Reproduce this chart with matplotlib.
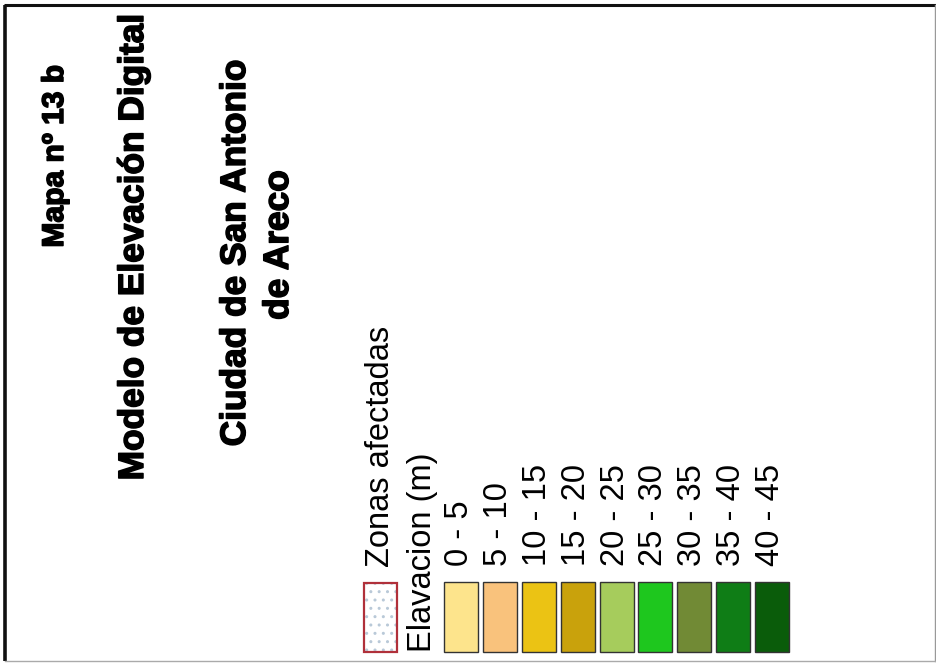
import matplotlib
matplotlib.use("Agg")
import matplotlib.pyplot as plt
import matplotlib.patheffects as pe
from matplotlib.patches import Rectangle

# legend data
elev_labels = ["0 - 5", "5 - 10", "10 - 15", "15 - 20", "20 - 25",
               "25 - 30", "30 - 35", "35 - 40", "40 - 45"]
elev_colors = ["#FDE48C", "#F9C27C", "#EBC314", "#C9A20C", "#A6CC5C",
               "#1EC71E", "#718A35", "#0F7D16", "#0A5C0A"]
zone_label = "Zonas afectadas"
elev_title = "Elavacion (m)"
title_lines = ["Mapa nº 13 b", "Modelo de Elevación Digital",
               "Ciudad de San Antonio", "de Areco"]

W, H = 937, 664
fig = plt.figure(figsize=(W / 100, H / 100), dpi=100)
ax = fig.add_axes([0, 0, 1, 1])
ax.set_xlim(0, W)
ax.set_ylim(H, 0)
ax.axis("off")

# frame
ax.plot([5.5, 5.5], [5, 661], color="#111111", lw=2.6, solid_capstyle="butt")
ax.plot([4, 937], [5, 5], color="#111111", lw=2.2, solid_capstyle="butt")
ax.plot([935.5, 935.5], [5, 661], color="#999999", lw=1.0)
ax.plot([5, 936], [661, 661], color="#aaaaaa", lw=1.0)

# titles, slightly heavier than plain bold
bold = dict(family=["Liberation Sans", "DejaVu Sans"], weight="bold",
            color="black", rotation=90, rotation_mode="anchor",
            ha="center", va="baseline",
            path_effects=[pe.withStroke(linewidth=1.1, foreground="black")])
title_x = [63, 143, 245, 288]
title_yc = [156, 247, 253, 245]
title_fs = [21.6, 25.4, 25.4, 25.4]
for txt, x, yc, fs in zip(title_lines, title_x, title_yc, title_fs):
    ax.text(x, yc, txt, fontsize=fs, **bold)

reg = dict(family=["Liberation Sans", "DejaVu Sans"], color="black",
           rotation=90, rotation_mode="anchor", ha="left", va="baseline",
           fontsize=23.5)

# affected zones patch (stippled, red outline)
zx, zy, zw, zh = 364, 583, 33, 69
ax.add_patch(Rectangle((zx, zy), zw, zh, facecolor="white", edgecolor="#B9C9D8",
                       hatch="..", lw=0))
ax.add_patch(Rectangle((zx, zy), zw, zh, facecolor="none", edgecolor="#B0303A",
                       lw=1.6))
ax.text(389, 567, zone_label, **reg)
ax.text(431, 652, elev_title, **reg)

# elevation classes
x0, step, pw = 444, 38.9, 34
py, ph = 582, 70
for i, (lab, col) in enumerate(zip(elev_labels, elev_colors)):
    px = x0 + i * step
    ax.add_patch(Rectangle((px, py), pw, ph, facecolor=col, edgecolor="#333333",
                           lw=1.0))
    ax.text(px + 24, 566, lab, **reg)

fig.savefig("out.png", dpi=100, facecolor="white")
